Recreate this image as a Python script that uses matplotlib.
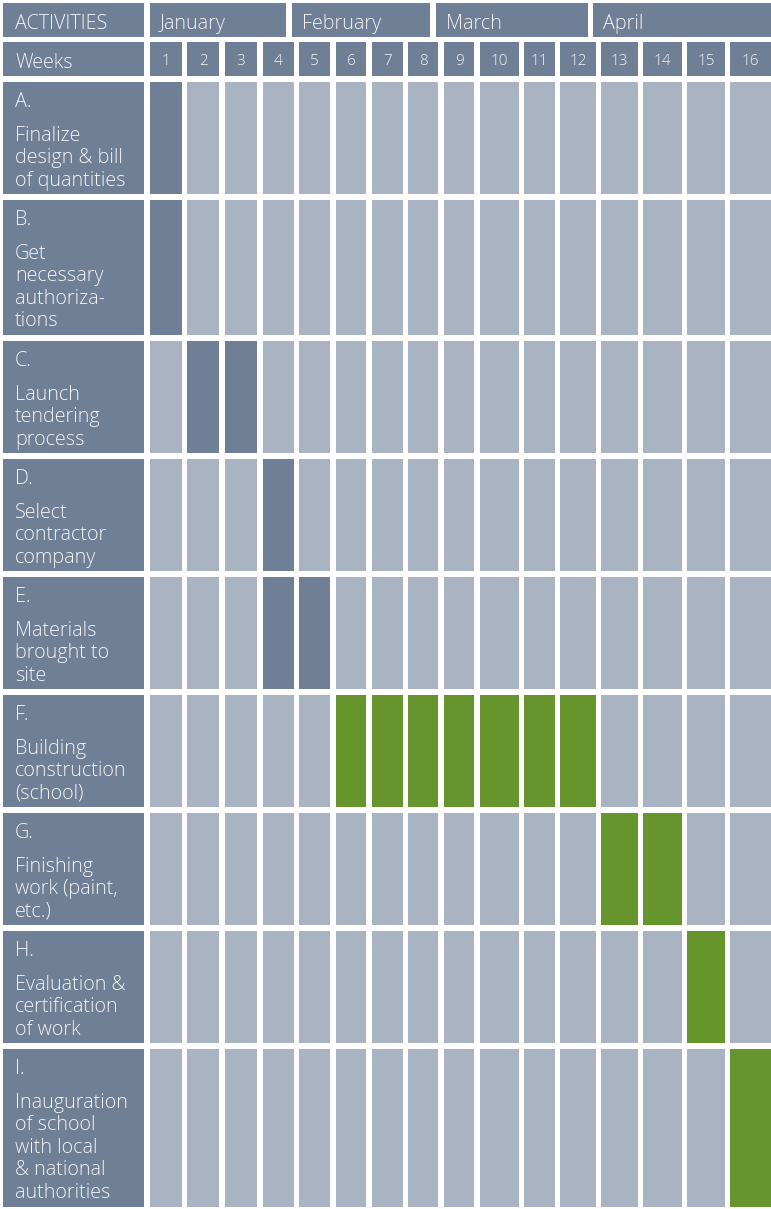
import matplotlib.pyplot as plt

# --- data ---
months = ["January", "February", "March", "April"]
weeks = [str(w) for w in range(1, 17)]
codes = ["A.", "B.", "C.", "D.", "E.", "F.", "G.", "H.", "I."]
tasks = [
    "Finalize\ndesign & bill\nof quantities",
    "Get\nnecessary\nauthoriza-\ntions",
    "Launch\ntendering\nprocess",
    "Select\ncontractor\ncompany",
    "Materials\nbrought to\nsite",
    "Building\nconstruction\n(school)",
    "Finishing\nwork (paint,\netc.)",
    "Evaluation &\ncertification\nof work",
    "Inauguration\nof school\nwith local\n& national\nauthorities",
]
active = [
    [1],
    [1],
    [2, 3],
    [4],
    [4, 5],
    [6, 7, 8, 9, 10, 11, 12],
    [13, 14],
    [15],
    [16],
]
phase = ["prep", "prep", "prep", "prep", "prep", "build", "build", "build", "build"]

# --- layout (pixels) ---
col_l = [150, 187, 225, 263, 299, 336, 372, 408, 444, 480, 524, 560, 601, 643, 687, 730]
col_r = [182, 219, 257, 294, 330, 366, 403, 438, 474, 519, 555, 596, 638, 682, 725, 771]
month_l = [150, 292, 436, 593]
month_r = [286, 430, 588, 771]
row_t = [82, 200, 341, 459, 577, 695, 813, 931, 1049]
row_b = [194, 335, 453, 571, 689, 807, 925, 1043, 1207]
head_t, head_b = 3, 37
week_t, week_b = 42, 76
lab_l, lab_r = 3, 144
line_h = 22.4

dark = "#6f7f96"
light = "#aab3c2"
green = "#67952d"
txt = "#f3f4f7"
colors = {"prep": dark, "build": green}
font = "Open Sans"
fs = 14.2

fig = plt.figure(figsize=(7.71, 12.09), dpi=100)
ax = fig.add_axes([0, 0, 1, 1])
ax.set_xlim(0, 771)
ax.set_ylim(1209, 0)
ax.axis("off")


def label(x, y, s, **kw):
    ax.text(x, y, s, color=txt, fontsize=kw.pop("size", fs), family=font,
            fontweight="light", va="baseline", **kw)


# header row
ax.bar(lab_l, head_b - head_t, width=lab_r - lab_l, bottom=head_t, align="edge", color=dark)
label(lab_l + 12, head_t + 26, "ACTIVITIES")
for i, m in enumerate(months):
    ax.bar(month_l[i], head_b - head_t, width=month_r[i] - month_l[i], bottom=head_t,
           align="edge", color=dark)
    label(month_l[i] + 10, head_t + 26, m)

# weeks row
ax.bar(lab_l, week_b - week_t, width=lab_r - lab_l, bottom=week_t, align="edge", color=dark)
label(lab_l + 12, week_t + 26, "Weeks")
for j, w in enumerate(weeks):
    ax.bar(col_l[j], week_b - week_t, width=col_r[j] - col_l[j], bottom=week_t,
           align="edge", color=dark)
    label((col_l[j] + col_r[j]) / 2, week_t + 23, w, size=11, ha="center")

# activity rows
for i in range(len(codes)):
    t, b = row_t[i], row_b[i]
    ax.bar(lab_l, b - t, width=lab_r - lab_l, bottom=t, align="edge", color=dark)
    label(lab_l + 12, t + 25, codes[i])
    for k, line in enumerate(tasks[i].split("\n")):
        label(lab_l + 12, t + 59 + k * line_h, line)
    for j in range(len(weeks)):
        c = colors[phase[i]] if (j + 1) in active[i] else light
        ax.bar(col_l[j], b - t, width=col_r[j] - col_l[j], bottom=t, align="edge", color=c)

fig.savefig("out.png", dpi=100)
